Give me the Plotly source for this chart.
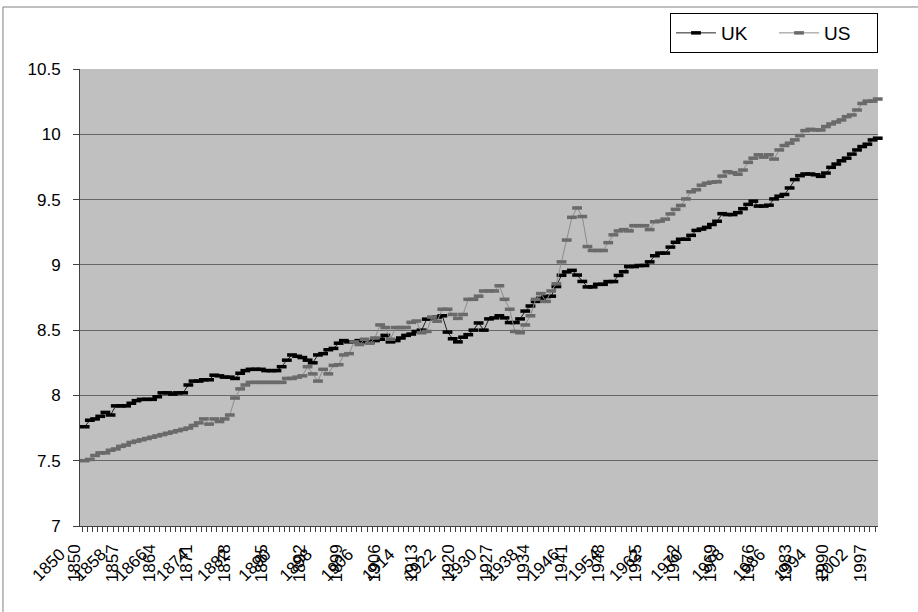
import plotly.graph_objects as go

years = list(range(1850, 2004))

uk = [
    7.76, 7.81, 7.82, 7.84, 7.87, 7.85, 7.92, 7.92, 7.92, 7.94,
    7.96, 7.97, 7.97, 7.97, 7.99, 8.02, 8.02, 8.01, 8.02, 8.02,
    8.08, 8.11, 8.11, 8.12, 8.12, 8.155, 8.15, 8.14, 8.14, 8.13,
    8.17, 8.19, 8.20, 8.20, 8.20, 8.19, 8.19, 8.19, 8.22, 8.27,
    8.31, 8.30, 8.29, 8.27, 8.25, 8.31, 8.32, 8.35, 8.36, 8.40,
    8.42, 8.41, 8.41, 8.42, 8.41, 8.41, 8.42, 8.43, 8.46, 8.41,
    8.42, 8.44, 8.46, 8.47, 8.49, 8.50, 8.584, 8.594, 8.60, 8.61,
    8.485, 8.434, 8.41, 8.446, 8.465, 8.50, 8.555, 8.50, 8.586, 8.594,
    8.61, 8.594, 8.558, 8.558, 8.586, 8.646, 8.685, 8.72, 8.744, 8.757,
    8.76, 8.834, 8.92, 8.946, 8.958, 8.922, 8.873, 8.831, 8.831, 8.851,
    8.851, 8.872, 8.872, 8.919, 8.947, 8.987, 8.987, 8.995, 8.995, 9.023,
    9.07, 9.09, 9.09, 9.136, 9.173, 9.196, 9.196, 9.226, 9.264, 9.274,
    9.287, 9.309, 9.334, 9.392, 9.385, 9.385, 9.40, 9.43, 9.463, 9.488,
    9.45, 9.45, 9.457, 9.505, 9.526, 9.539, 9.589, 9.653, 9.683, 9.696,
    9.696, 9.69, 9.678, 9.703, 9.747, 9.772, 9.797, 9.817, 9.848, 9.88,
    9.906, 9.924, 9.957, 9.97,
]

us = [
    7.50, 7.51, 7.54, 7.56, 7.56, 7.58, 7.59, 7.61, 7.62, 7.64,
    7.65, 7.66, 7.67, 7.68, 7.69, 7.70, 7.71, 7.72, 7.73, 7.74,
    7.75, 7.77, 7.79, 7.82, 7.78, 7.82, 7.80, 7.82, 7.85, 7.98,
    8.05, 8.08, 8.10, 8.10, 8.10, 8.10, 8.10, 8.10, 8.10, 8.13,
    8.13, 8.14, 8.15, 8.22, 8.165, 8.11, 8.20, 8.165, 8.23, 8.235,
    8.31, 8.32, 8.41, 8.39, 8.43, 8.40, 8.44, 8.54, 8.52, 8.43,
    8.52, 8.52, 8.52, 8.56, 8.57, 8.48, 8.49, 8.60, 8.568, 8.66,
    8.66, 8.62, 8.59, 8.62, 8.736, 8.736, 8.76, 8.80, 8.80, 8.80,
    8.84, 8.736, 8.66, 8.49, 8.48, 8.54, 8.61, 8.736, 8.78, 8.72,
    8.80, 8.855, 9.023, 9.19, 9.364, 9.436, 9.37, 9.14, 9.11, 9.11,
    9.11, 9.17, 9.23, 9.26, 9.27, 9.26, 9.30, 9.30, 9.30, 9.27,
    9.33, 9.335, 9.35, 9.39, 9.425, 9.455, 9.505, 9.56, 9.575, 9.61,
    9.625, 9.633, 9.636, 9.68, 9.713, 9.706, 9.694, 9.726, 9.785, 9.817,
    9.843, 9.825, 9.843, 9.81, 9.88, 9.914, 9.932, 9.957, 9.99, 10.028,
    10.038, 10.033, 10.033, 10.059, 10.079, 10.094, 10.11, 10.135, 10.148, 10.186,
    10.236, 10.254, 10.254, 10.27,
]

y_ticks = [7, 7.5, 8, 8.5, 9, 9.5, 10, 10.5]
y_labels = ["7", "7.5", "8", "8.5", "9", "9.5", "10", "10.5"]

# two overlapping sets of year labels, as in the original export
diag_years = list(range(1850, 2003, 8))
vert_years = list(range(1850, 1998, 7))

font = "Liberation Sans, Arial, sans-serif"

fig = go.Figure()
fig.add_trace(go.Scatter(
    x=years, y=uk, name="UK", mode="lines+markers", cliponaxis=False,
    line=dict(color="#202020", width=1),
    marker=dict(symbol="line-ew", size=7, color="#000000",
                line=dict(color="#000000", width=3.5)),
))
fig.add_trace(go.Scatter(
    x=years, y=us, name="US", mode="lines+markers", cliponaxis=False,
    line=dict(color="#8c8c8c", width=1),
    marker=dict(symbol="line-ew", size=7, color="#6a6a6a",
                line=dict(color="#6a6a6a", width=3.5)),
))
# empty traces so the two label-only axes get drawn
fig.add_trace(go.Scatter(x=diag_years, y=[None] * len(diag_years), xaxis="x2", yaxis="y3",
                         showlegend=False, hoverinfo="skip", mode="markers"))
fig.add_trace(go.Scatter(x=vert_years, y=[None] * len(vert_years), xaxis="x3", yaxis="y3",
                         showlegend=False, hoverinfo="skip", mode="markers"))

fig.update_layout(
    width=918, height=612,
    margin=dict(l=40, r=40, t=69, b=86),
    paper_bgcolor="white",
    plot_bgcolor="rgba(0,0,0,0)",
    font=dict(family=font, size=17, color="black"),
    showlegend=True,
    hovermode=False,
    legend=dict(
        orientation="h", x=1, xanchor="right", y=1.1225, yanchor="top",
        bgcolor="white", bordercolor="black", borderwidth=1,
        font=dict(size=19), itemwidth=40, entrywidth=48,
    ),
    xaxis=dict(
        domain=[40 / 838, 1], range=[1849.1, 2003.05],
        tick0=1849.5, dtick=1, ticks="outside", ticklen=5, tickcolor="#404040",
        showticklabels=False, showgrid=False, zeroline=False,
        showline=True, linecolor="#404040", linewidth=1,
    ),
    yaxis=dict(
        range=[7, 10.5], tickvals=y_ticks, ticktext=y_labels,
        ticks="outside", ticklen=6, tickcolor="#404040", ticklabelstandoff=9,
        showgrid=True, gridcolor="#666666", gridwidth=1, zeroline=False,
        showline=True, linecolor="#404040", linewidth=1,
    ),
    xaxis2=dict(
        domain=[0, 1], anchor="y3", range=[1846.1, 2008.85],
        tickvals=diag_years, ticktext=[str(v) for v in diag_years],
        tickangle=-45, ticks="", showgrid=False, zeroline=False, showline=False,
        ticklabelstandoff=14,
    ),
    xaxis3=dict(
        domain=[0, 1], anchor="y3", range=[1843.5, 2000.3],
        tickvals=vert_years, ticktext=[str(v) for v in vert_years],
        tickangle=-90, ticks="", showgrid=False, zeroline=False, showline=False,
        ticklabelstandoff=14,
    ),
    yaxis3=dict(domain=[0, 1], anchor="x2", range=[7, 10.5], visible=False),
    shapes=[
        dict(type="rect", xref="x domain", yref="y domain", x0=0, x1=1, y0=0, y1=1,
             fillcolor="#c0c0c0", line=dict(width=0), layer="below"),
        dict(type="rect", xref="paper", yref="paper", x0=-0.0442, x1=1.2, y0=-0.4, y1=1.1357,
             line=dict(color="#808080", width=1), fillcolor="rgba(0,0,0,0)"),
    ],
)

fig.write_html("out.html", config={"displayModeBar": False},
               post_script="document.body.style.margin='0';")
